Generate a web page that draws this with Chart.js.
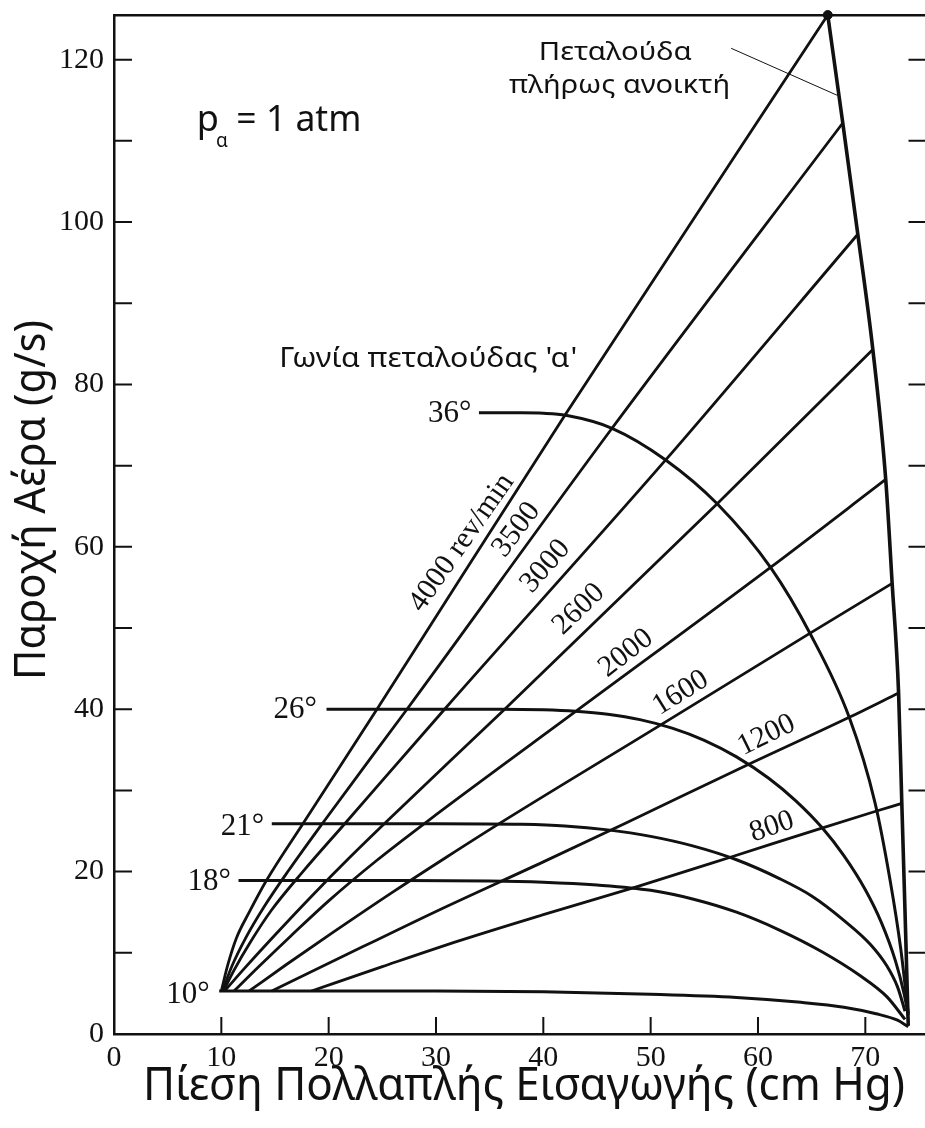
<!DOCTYPE html>
<html>
<head>
<meta charset="utf-8">
<script src="https://cdn.jsdelivr.net/npm/chart.js@4.4.0/dist/chart.umd.min.js"></script>
<style>
  html, body { margin: 0; padding: 0; background: #fff; overflow: hidden; }
  #wrap { width: 925px; height: 1128px; overflow: hidden; }
</style>
</head>
<body>
<div id="wrap"><canvas id="chart1" width="932" height="1128"></canvas></div>
<script>
// values: x = manifold pressure (cm Hg), y = air flow (g/s)
const xTicks = [0, 10, 20, 30, 40, 50, 60, 70];
const yTicks = [0, 20, 40, 60, 80, 100, 120];
const yMarks = [10, 20, 30, 40, 50, 60, 70, 80, 90, 100, 110, 120];

// constant engine speed lines (rev/min)
const rpm4000 = [[10.0, 5.3], [10.6, 8.5], [11.4, 11.8], [12.6, 15], [14.2, 18.9], [17.6, 25.9], [24.5, 40], [42.1, 76.4], [66.5, 125.5]];
const rpm3500 = [[10.1, 5.3], [11.0, 8.4], [12.3, 11.9], [14.0, 15.7], [16.3, 20.2], [19.4, 25.9], [27.3, 40], [46.4, 74.6], [67.9, 112.2]];
const rpm3000 = [[10.2, 5.3], [11.2, 7.9], [12.7, 11.3], [14.7, 15.3], [17.6, 20.0], [21.5, 25.9], [30.8, 40], [51.4, 70.7], [69.3, 98.5]];
const rpm2600 = [[10.3, 5.3], [12.3, 8.3], [15.0, 12.2], [18.5, 17.1], [22.0, 21.8], [25.5, 26.3], [36.4, 40], [56.2, 65.3], [70.7, 84.3]];
const rpm2000 = [[11.2, 5.3], [13.5, 8.3], [16.5, 12.1], [20.0, 16.4], [24.5, 21.4], [29.2, 26.2], [43.3, 40], [61.2, 57.5], [71.9, 68.3]];
const rpm1600 = [[12.6, 5.3], [16.0, 8.5], [20.5, 12.6], [26.0, 17.5], [31.0, 21.8], [36.0, 26], [50.6, 37.8], [64.9, 49.4], [72.5, 55.5]];
const rpm1200 = [[14.7, 5.3], [20.0, 8.7], [30.0, 15.1], [40.0, 21.2], [47.7, 26], [58.8, 33], [68.5, 39], [73.1, 42]];
const rpm800 = [[18.4, 5.3], [25.0, 8.3], [32.2, 11.5], [40.0, 14.7], [48.6, 18.1], [57.5, 21.8], [65.8, 25.3], [70.9, 27.4], [73.4, 28.4]];

// constant throttle angle curves
const deg36 = [[34.0, 76.5], [38.0, 76.5], [40.0, 76.45], [42.1, 76.2], [46.4, 74.6], [51.4, 70.7], [56.2, 65.3], [61.2, 57.4], [64.9, 49.2], [68.5, 39], [70.9, 28.5], [72.3, 19], [73.3, 10.5], [74.0, 2.5]];
const deg26 = [[19.8, 40], [30.0, 40], [36.0, 40], [40.0, 39.92], [43.0, 39.74], [46.0, 39.38], [49.0, 38.72], [52.0, 37.67], [55.0, 36.17], [58.0, 34.13], [61.0, 31.49], [63.5, 28.74], [66.0, 25.36], [68.0, 21.96], [70.0, 17.76], [71.5, 13.71], [72.8, 9.03], [73.6, 5.03], [74.0, 2.3]];
const deg21 = [[14.7, 25.9], [30.0, 25.9], [38.0, 25.82], [42.0, 25.62], [46.0, 25.14], [50.0, 24.34], [54.0, 23.14], [58.0, 21.46], [62.0, 19.14], [65.0, 17.0], [68.0, 14.0], [70.5, 11.0], [72.0, 8.4], [73.0, 5.8], [73.7, 2.8]];
const deg18 = [[11.6, 18.9], [25.0, 18.9], [35.0, 18.85], [40.0, 18.7], [45.0, 18.35], [50.0, 17.7], [54.0, 16.6], [58.0, 15.0], [62.0, 12.8], [66.0, 10.1], [69.5, 7.2], [72.0, 4.6], [73.7, 1.8]];
const deg10 = [[9.8, 5.3], [30.0, 5.3], [40.0, 5.2], [50.0, 4.9], [58.0, 4.5], [64.0, 3.9], [68.0, 3.3], [71.0, 2.5], [73.0, 1.7], [74.0, 0.9]];

// throttle fully open
const fullOpen = [[66.5, 125.5], [67.9, 112.2], [69.3, 98.5], [70.7, 84.3], [71.9, 68.3], [72.5, 55.5], [73.1, 42], [73.4, 28.4], [73.7, 15], [74.0, 1]];
const leader = [[57.5, 121.4], [67.4, 115.6]];
const topPoint = [[66.5, 125.5]];

// text labels placed in data units
const speedLabels = [
  { text: '4000 rev/min', x: 32.4, y: 60.5, rot: -55 },
  { text: '3500', x: 37.5, y: 62.1, rot: -53 },
  { text: '3000', x: 40.2, y: 57.6, rot: -49 },
  { text: '2600', x: 43.3, y: 52.3, rot: -44 },
  { text: '2000', x: 47.7, y: 46.9, rot: -38 },
  { text: '1600', x: 52.8, y: 42.0, rot: -32 },
  { text: '1200', x: 60.8, y: 36.8, rot: -26 },
  { text: '800', x: 61.3, y: 25.5, rot: -19 }
];
const angleLabels = [
  { text: '36°', x: 33.3, y: 75.4 },
  { text: '26°', x: 18.9, y: 38.9 },
  { text: '21°', x: 14.0, y: 24.5 },
  { text: '18°', x: 10.9, y: 17.7 },
  { text: '10°', x: 8.9, y: 3.8 }
];

const INK = '#111';
const SANS = '"Noto Sans", "DejaVu Sans", sans-serif';
const SERIF = '"Liberation Serif", "DejaVu Serif", serif';

function ds(pts, w) {
  return {
    data: pts.map(p => ({ x: p[0], y: p[1] })),
    showLine: true,
    borderColor: INK,
    borderWidth: w,
    pointRadius: 0,
    cubicInterpolationMode: 'monotone'
  };
}

// draws text, optionally stretched horizontally to a given width
function drawText(ctx, text, px, py, o) {
  ctx.save();
  ctx.translate(px, py);
  if (o.rot) ctx.rotate(o.rot * Math.PI / 180);
  ctx.font = o.font;
  if (o.width) {
    const w = ctx.measureText(text).width;
    ctx.scale(o.width / w, 1);
  }
  ctx.textAlign = o.align || 'left';
  ctx.textBaseline = o.base || 'alphabetic';
  ctx.fillStyle = INK;
  ctx.fillText(text, 0, 0);
  ctx.restore();
}

const decor = {
  id: 'decor',
  afterDraw(chart) {
    const { ctx, chartArea: a, scales: { x, y } } = chart;
    const P = (vx, vy) => [x.getPixelForValue(vx), y.getPixelForValue(vy)];

    // inward tick marks
    ctx.save();
    ctx.strokeStyle = INK;
    ctx.lineWidth = 2;
    ctx.beginPath();
    yMarks.forEach(v => {
      const py = y.getPixelForValue(v);
      ctx.moveTo(a.left, py); ctx.lineTo(a.left + 18, py);
      ctx.moveTo(a.right, py); ctx.lineTo(a.right - 18, py);
    });
    xTicks.slice(1).forEach(v => {
      const px = x.getPixelForValue(v);
      ctx.moveTo(px, a.bottom); ctx.lineTo(px, a.bottom - 17);
    });
    ctx.stroke();
    ctx.restore();

    // speed labels along the lines
    speedLabels.forEach(l => {
      const [px, py] = P(l.x, l.y);
      drawText(ctx, l.text, px, py, { font: '30px ' + SERIF, rot: l.rot, align: 'center', base: 'middle' });
    });
    // throttle angle labels
    angleLabels.forEach(l => {
      const [px, py] = P(l.x, l.y);
      drawText(ctx, l.text, px, py, { font: '31px ' + SERIF, align: 'right' });
    });

    // notes
    let [px, py] = P(7.7, 111.2);
    drawText(ctx, 'p', px, py, { font: '36px ' + SANS });
    [px, py] = P(9.5, 109.2);
    drawText(ctx, 'α', px, py, { font: '19px ' + SANS });
    [px, py] = P(11.4, 111.2);
    drawText(ctx, '= 1 atm', px, py, { font: '36px ' + SANS, width: 125 });

    [px, py] = P(46.7, 119.95);
    drawText(ctx, 'Πεταλούδα', px, py, { font: '26px ' + SANS, align: 'center', width: 153 });
    [px, py] = P(47.1, 115.9);
    drawText(ctx, 'πλήρως ανοικτή', px, py, { font: '26px ' + SANS, align: 'center', width: 221 });
    [px, py] = P(15.4, 82.1);
    drawText(ctx, "Γωνία πεταλούδας 'α'", px, py, { font: '28px ' + SANS, width: 298 });

    // axis titles
    drawText(ctx, 'Πίεση Πολλαπλής Εισαγωγής (cm Hg)', 524, 1100, { font: '46px ' + SANS, align: 'center', width: 762 });
    drawText(ctx, 'Παροχή Αέρα (g/s)', 45, 500, { font: '44px ' + SANS, align: 'center', rot: -90, width: 360 });
  }
};

const tickFont = { family: 'Liberation Serif', size: 30 };

const chart1 = new Chart(document.getElementById('chart1'), {
  type: 'scatter',
  data: {
    datasets: [
      ds(deg10, 3), ds(deg18, 3), ds(deg21, 3), ds(deg26, 3), ds(deg36, 3),
      ds(rpm4000, 2.8), ds(rpm3500, 2.8), ds(rpm3000, 2.8), ds(rpm2600, 2.8),
      ds(rpm2000, 2.8), ds(rpm1600, 2.8), ds(rpm1200, 2.8), ds(rpm800, 2.8),
      Object.assign(ds(fullOpen, 3.6), { clip: false }),
      Object.assign(ds(leader, 1), { cubicInterpolationMode: 'default' }),
      { data: topPoint.map(p => ({ x: p[0], y: p[1] })), pointRadius: 4.5, pointBackgroundColor: INK, pointBorderColor: INK, clip: false }
    ]
  },
  options: {
    responsive: false,
    animation: false,
    devicePixelRatio: 1,
    layout: { padding: { left: 0, top: 15, right: 2, bottom: 0 } },
    plugins: { legend: { display: false }, tooltip: { enabled: false } },
    scales: {
      x: {
        type: 'linear', position: 'bottom', min: 0, max: 75.7,
        afterBuildTicks: s => { s.ticks = xTicks.map(v => ({ value: v })); },
        afterFit: s => { s.height = 94; s.paddingLeft = 0; s.paddingRight = 0; },
        grid: { display: false, drawTicks: false },
        border: { display: true, color: INK, width: 2.5 },
        ticks: { font: tickFont, color: INK, padding: 6, autoSkip: false, maxRotation: 0 }
      },
      xTop: {
        type: 'linear', position: 'top', min: 0, max: 75.7,
        afterFit: s => { s.height = 0; s.paddingLeft = 0; s.paddingRight = 0; },
        grid: { display: false, drawTicks: false },
        border: { display: true, color: INK, width: 2.5 },
        ticks: { display: false }
      },
      y: {
        type: 'linear', position: 'left', min: 0, max: 125.5,
        afterBuildTicks: s => { s.ticks = yTicks.map(v => ({ value: v })); },
        afterFit: s => { s.width = 114; s.paddingTop = 0; s.paddingBottom = 0; },
        grid: { display: false, drawTicks: false },
        border: { display: true, color: INK, width: 2.5 },
        ticks: { font: tickFont, color: INK, padding: 10, autoSkip: false }
      }
    }
  },
  plugins: [decor]
});
</script>
</body>
</html>
